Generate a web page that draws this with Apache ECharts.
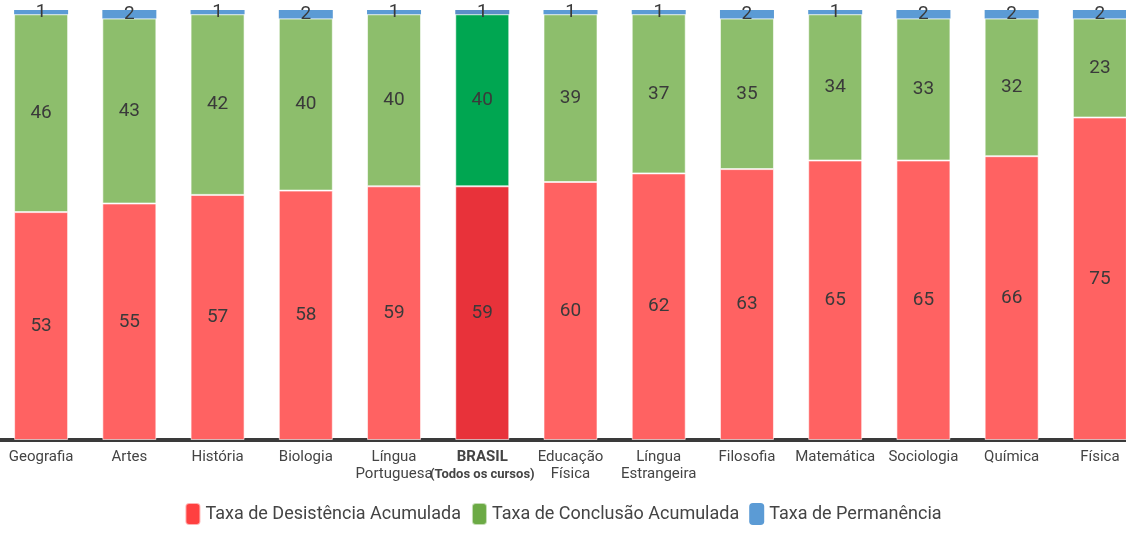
<!DOCTYPE html>
<html>
<head>
<meta charset="utf-8">
<script src="https://cdn.jsdelivr.net/npm/echarts@6/dist/echarts.min.js"></script>
<style>html,body{margin:0;padding:0;background:#fff}#c{width:1126px;height:533px}</style>
</head>
<body>
<div id="c"></div>
<script>
const categories = ['Geografia','Artes','História','Biologia','Língua\nPortuguesa','BRASIL','Educação\nFísica','Língua\nEstrangeira','Filosofia','Matemática','Sociologia','Química','Física'];
const desistencia = [53,55,57,58,59,59,60,62,63,65,65,66,75];
const conclusao = [46,43,42,40,40,40,39,37,35,34,33,32,23];
const permanencia = [1,2,1,2,1,1,1,1,2,1,2,2,2];
const highlightIndex = 5;

const RED = '#FF6262', GREEN = '#8DBE6C', BLUE = '#5B9BD5';
const RED_H = '#E8323A', GREEN_H = '#00A651';

function mk(values, hcolor) {
  return values.map((v, i) => i === highlightIndex ? {value: v, itemStyle: {color: hcolor}} : v);
}
const labelCfg = {show: true, position: 'inside', color: '#3a3a3a', fontSize: 19, fontFamily: 'Roboto'};
const chart = echarts.init(document.getElementById('c'));
chart.setOption({
  animation: false,
  textStyle: {fontFamily: 'Roboto'},
  grid: {left: -3, right: -18, top: 10, bottom: 93, outerBoundsMode: 'none', containLabel: false},
  legend: {
    bottom: 2, left: 'center', itemWidth: 15, itemHeight: 22, itemGap: 10,
    textStyle: {fontSize: 18, color: '#444', fontFamily: 'Roboto'},
    data: [
      {name: 'Taxa de Desistência Acumulada', itemStyle: {color: '#FF4040'}},
      {name: 'Taxa de Conclusão Acumulada', itemStyle: {color: '#6CAA45'}},
      {name: 'Taxa de Permanência', itemStyle: {color: '#5B9BD5'}}
    ]
  },
  xAxis: {
    type: 'category', data: categories,
    axisLine: {lineStyle: {color: '#3a3a3a', width: 4}},
    axisTick: {show: false},
    axisLabel: {
      interval: 0, margin: 9, color: '#444', fontSize: 15, lineHeight: 17,
      formatter: function (v) {
        if (v === 'BRASIL') return '{b|BRASIL}\n{s|(Todos os cursos)}';
        return v;
      },
      rich: {
        b: {fontWeight: 'bold', fontSize: 15, color: '#444', lineHeight: 17},
        s: {fontWeight: 'bold', fontSize: 13, color: '#444', lineHeight: 17}
      }
    }
  },
  yAxis: {type: 'value', min: 0, max: 100, show: false},
  series: [
    {name: 'Taxa de Desistência Acumulada', type: 'bar', stack: 't', barWidth: 54,
     itemStyle: {color: RED, borderColor: 'rgba(255,255,255,0.6)', borderWidth: 1},
     label: labelCfg, data: mk(desistencia, RED_H)},
    {name: 'Taxa de Conclusão Acumulada', type: 'bar', stack: 't', barWidth: 54,
     itemStyle: {color: GREEN, borderColor: 'rgba(255,255,255,0.6)', borderWidth: 1},
     label: labelCfg, data: mk(conclusao, GREEN_H)},
    {name: 'Taxa de Permanência', type: 'bar', stack: 't', barWidth: 54,
     itemStyle: {color: BLUE},
     label: labelCfg, data: mk(permanencia, '#5B8FC8')}
  ]
});
</script>
</body>
</html>
